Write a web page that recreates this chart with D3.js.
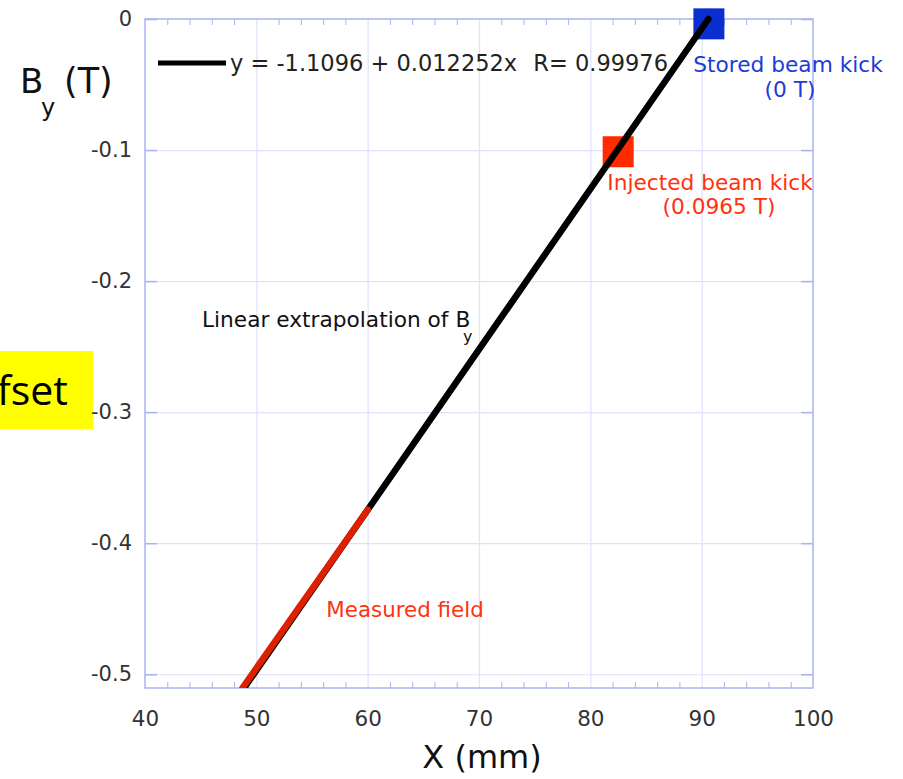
<!DOCTYPE html>
<html>
<head>
<meta charset="utf-8">
<script src="https://cdn.jsdelivr.net/npm/d3@7"></script>
<style>
  html, body { margin: 0; padding: 0; background: #fff; }
  svg { display: block; font-family: "DejaVu Sans", sans-serif; }
</style>
</head>
<body>
<div id="chart"></div>
<script>
// Axis ticks
const xTicks = [40, 50, 60, 70, 80, 90, 100]
const xMinorTicks = [42, 44, 46, 48, 52, 54, 56, 58, 62, 64, 66, 68, 72, 74, 76, 78, 82, 84, 86, 88, 92, 94, 96, 98]
const yTicks = [0, -0.1, -0.2, -0.3, -0.4, -0.5]
const xDomain = [40, 100]
const yDomain = [-0.5105, 0]

// Series
const fitX = [48.9, 90.6]
const fitY = [-0.5105, 0.0]
const measuredX = [48.75, 60.0]
const measuredY = [-0.5105, -0.3745]
const storedKick = { x: 90.65, y: -0.0037 }
const injectedKick = { x: 82.5, y: -0.1013 }

const fitLabel = "y = -1.1096 + 0.012252x"
const fitR = "R= 0.99976"

const width = 903
const height = 779
const margin = { top: 19, right: 90, bottom: 91, left: 145 }
const w = width - margin.left - margin.right
const h = height - margin.top - margin.bottom

const frameColor = "#aab2f2"
const gridColor = "#dfe2fa"

const svg = d3.select("#chart")
  .append("svg")
  .attr("width", width)
  .attr("height", height)
  .attr("viewBox", [0, 0, width, height])

// yellow box from the slide behind the chart
svg.append("rect")
  .attr("x", 0).attr("y", 351).attr("width", 93).attr("height", 78)
  .attr("fill", "#ffff00")
svg.append("text")
  .attr("x", 68).attr("y", 405)
  .attr("text-anchor", "end")
  .attr("font-family", "'Open Sans', sans-serif")
  .attr("font-size", 41)
  .attr("fill", "#000")
  .text("fset")

const g = svg.append("g")
  .attr("transform", `translate(${margin.left},${margin.top})`)

const x = d3.scaleLinear().domain(xDomain).range([0, w])
const y = d3.scaleLinear().domain(yDomain).range([h, 0])

// grid
g.append("g")
  .attr("transform", `translate(0,${h})`)
  .call(d3.axisBottom(x).tickValues(xTicks.slice(1, -1)).tickSize(-h).tickFormat(""))
  .call(a => a.select(".domain").remove())
  .call(a => a.selectAll("line").attr("stroke", gridColor).attr("stroke-width", 1.2))

g.append("g")
  .call(d3.axisLeft(y).tickValues(yTicks.slice(1)).tickSize(-w).tickFormat(""))
  .call(a => a.select(".domain").remove())
  .call(a => a.selectAll("line").attr("stroke", gridColor).attr("stroke-width", 1.2))

// minor x ticks, top and bottom
g.append("g")
  .attr("transform", `translate(0,${h})`)
  .call(d3.axisBottom(x).tickValues(xMinorTicks).tickSize(-6).tickFormat(""))
  .call(a => a.select(".domain").remove())
  .call(a => a.selectAll("line").attr("stroke", frameColor))

g.append("g")
  .call(d3.axisTop(x).tickValues(xMinorTicks).tickSize(-6).tickFormat(""))
  .call(a => a.select(".domain").remove())
  .call(a => a.selectAll("line").attr("stroke", frameColor))

// major y ticks, left and right
g.append("g")
  .call(d3.axisLeft(y).tickValues(yTicks).tickSize(-12).tickFormat(""))
  .call(a => a.select(".domain").remove())
  .call(a => a.selectAll("line").attr("stroke", frameColor).attr("stroke-width", 1.5))

g.append("g")
  .attr("transform", `translate(${w},0)`)
  .call(d3.axisRight(y).tickValues(yTicks).tickSize(-12).tickFormat(""))
  .call(a => a.select(".domain").remove())
  .call(a => a.selectAll("line").attr("stroke", frameColor).attr("stroke-width", 1.5))

// frame
g.append("rect")
  .attr("width", w).attr("height", h)
  .attr("fill", "none")
  .attr("stroke", frameColor)
  .attr("stroke-width", 1.5)

// tick labels
g.append("g")
  .attr("transform", `translate(0,${h})`)
  .call(d3.axisBottom(x).tickValues(xTicks).tickSize(0).tickPadding(23).tickFormat(d3.format("d")))
  .call(a => a.select(".domain").remove())
  .call(a => a.selectAll("text")
    .attr("font-family", "'DejaVu Sans', sans-serif")
    .attr("font-size", 21.5)
    .attr("fill", "#333"))

g.append("g")
  .call(d3.axisLeft(y).tickValues(yTicks).tickSize(0).tickPadding(13)
    .tickFormat(d => d === 0 ? "0" : d3.format(".1f")(d).replace("−", "-")))
  .call(a => a.select(".domain").remove())
  .call(a => a.selectAll("text")
    .attr("font-family", "'DejaVu Sans', sans-serif")
    .attr("font-size", 21)
    .attr("fill", "#333"))

// lines
svg.append("clipPath").attr("id", "plot-clip")
  .append("rect").attr("x", margin.left).attr("y", 0)
  .attr("width", w).attr("height", margin.top + h)

const line = d3.line().x(d => x(d[0])).y(d => y(d[1]))

const lines = svg.append("g")
  .attr("clip-path", "url(#plot-clip)")
  .append("g")
  .attr("transform", `translate(${margin.left},${margin.top})`)

lines.append("path")
  .datum(d3.zip(fitX, fitY))
  .attr("d", line)
  .attr("fill", "none")
  .attr("stroke", "#000")
  .attr("stroke-width", 6.5)
  .attr("stroke-linecap", "round")

lines.append("path")
  .datum(d3.zip(measuredX, measuredY))
  .attr("d", line)
  .attr("fill", "none")
  .attr("stroke", "#dd2000")
  .attr("stroke-width", 6.5)
  .attr("stroke-linecap", "round")

// kick markers
const side = 31
g.append("rect")
  .attr("x", x(storedKick.x) - side / 2).attr("y", y(storedKick.y) - side / 2)
  .attr("width", side).attr("height", side)
  .attr("fill", "#0a2ecf")

g.append("rect")
  .attr("x", x(injectedKick.x) - side / 2).attr("y", y(injectedKick.y) - side / 2)
  .attr("width", side).attr("height", side)
  .attr("fill", "#ff2a00")

// legend
svg.append("line")
  .attr("x1", 158).attr("x2", 226).attr("y1", 63).attr("y2", 63)
  .attr("stroke", "#000").attr("stroke-width", 5)

svg.append("text")
  .attr("x", 230).attr("y", 71)
  .attr("font-size", 22.5)
  .attr("fill", "#222")
  .text(fitLabel)

svg.append("text")
  .attr("x", 668).attr("y", 71)
  .attr("text-anchor", "end")
  .attr("font-size", 22.5)
  .attr("fill", "#222")
  .text(fitR)

// annotations
const blue = "#1c3bd8"
const red = "#ff3210"
const noteSize = 21.7

svg.append("text")
  .attr("x", 788).attr("y", 72)
  .attr("text-anchor", "middle")
  .attr("font-size", noteSize)
  .attr("fill", blue)
  .text("Stored beam kick")

svg.append("text")
  .attr("x", 790).attr("y", 97)
  .attr("text-anchor", "middle")
  .attr("font-size", noteSize)
  .attr("fill", blue)
  .text("(0 T)")

svg.append("text")
  .attr("x", 710).attr("y", 190)
  .attr("text-anchor", "middle")
  .attr("font-size", noteSize)
  .attr("fill", red)
  .text("Injected beam kick")

svg.append("text")
  .attr("x", 719).attr("y", 214)
  .attr("text-anchor", "middle")
  .attr("font-size", noteSize)
  .attr("fill", red)
  .text("(0.0965 T)")

svg.append("text")
  .attr("x", 405).attr("y", 617)
  .attr("text-anchor", "middle")
  .attr("font-size", 21.4)
  .attr("fill", red)
  .text("Measured field")

const lin = svg.append("text")
  .attr("x", 202).attr("y", 327)
  .attr("font-size", 21.7)
  .attr("fill", "#111")
lin.append("tspan").text("Linear extrapolation of B")
lin.append("tspan").attr("x", 463).attr("y", 342).attr("font-size", 16).text("y")

// axis titles
svg.append("text")
  .attr("x", 482).attr("y", 768)
  .attr("text-anchor", "middle")
  .attr("font-size", 32)
  .attr("fill", "#111")
  .text("X (mm)")

const yt = svg.append("text")
  .attr("x", 20).attr("y", 93)
  .attr("font-size", 34)
  .attr("fill", "#111")
yt.append("tspan").text("B")
yt.append("tspan").attr("x", 41).attr("y", 116).attr("font-size", 24).text("y")
yt.append("tspan").attr("x", 64).attr("y", 93).attr("font-size", 35).text("(T)")
</script>
</body>
</html>
